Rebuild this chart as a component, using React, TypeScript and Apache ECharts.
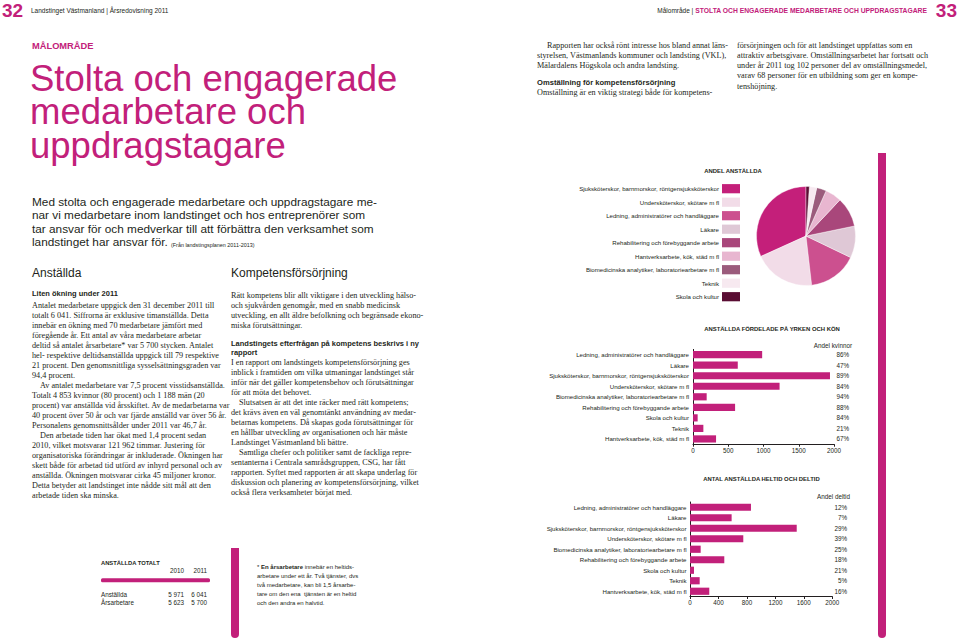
import { useEffect, useRef } from "react";
import * as echarts from "echarts";

const MAGENTA = "#c2207a";
const INK = "#231f20";
const SANS = '"Liberation Sans", Arial, Helvetica, sans-serif';
const SERIF = '"Liberation Serif", "Times New Roman", serif';

// ---- chart data ----
const occupations = [
  "Ledning, administratörer och handläggare",
  "Läkare",
  "Sjuksköterskor, barnmorskor, röntgensjuksköterskor",
  "Undersköterskor, skötare m fl",
  "Biomedicinska analytiker, laboratoriearbetare m fl",
  "Rehabilitering och förebyggande arbete",
  "Skola och kultur",
  "Teknik",
  "Hantverksarbete, kök, städ m fl",
];
const employees = [981, 635, 1943, 1228, 194, 597, 66, 147, 327];
const shareWomen = ["86%", "47%", "89%", "84%", "94%", "88%", "84%", "21%", "67%"];
const fullTime = [857, 585, 1500, 749, 150, 482, 56, 136, 271];
const sharePartTime = ["12%", "7%", "29%", "39%", "25%", "18%", "21%", "5%", "16%"];

const pieOrder = [
  "Sjuksköterskor, barnmorskor, röntgensjuksköterskor",
  "Undersköterskor, skötare m fl",
  "Ledning, administratörer och handläggare",
  "Läkare",
  "Rehabilitering och förebyggande arbete",
  "Hantverksarbete, kök, städ m fl",
  "Biomedicinska analytiker, laboratoriearbetare m fl",
  "Teknik",
  "Skola och kultur",
];
const pieColors = ["#c41f7a", "#f2dce8", "#cc508f", "#dfc8d6", "#a9477b", "#e8b6d0", "#9b5b7c", "#f7e9f0", "#5a0d33"];

const axis1Ticks = [0, 500, 2000];
const axis2Ticks = [0, 400, 2000];

const totalYears = ["2010", "2011"];
const totalRows = ["Anställda", "Årsarbetare"];
const totals2010 = ["5 971", "5 623"];
const totals2011 = ["6 041", "5 700"];

// ---- page texts ----
const titleLines = ["Stolta och engagerade", "medarbetare och", "uppdragstagare"];
const introLines = [
  "Med stolta och engagerade medarbetare och uppdragstagare me-",
  "nar vi medarbetare inom landstinget och hos entreprenörer som",
  "tar ansvar för och medverkar till att förbättra den verksamhet som",
];
const introLast = "landstinget har ansvar för.";
const introSource = "(Från landstingsplanen 2011-2013)";

const anstalldaLines = [
  "Antalet medarbetare uppgick den 31 december 2011 till",
  "totalt 6 041. Siffrorna är exklusive timanställda. Detta",
  "innebär en ökning med 70 medarbetare jämfört med",
  "föregående år. Ett antal av våra medarbetare arbetar",
  "deltid så antalet årsarbetare* var 5 700 stycken. Antalet",
  "hel- respektive deltidsanställda uppgick till 79 respektive",
  "21 procent. Den genomsnittliga sysselsättningsgraden var",
  "94,4 procent.",
  "\tAv antalet medarbetare var 7,5 procent visstidsanställda.",
  "Totalt 4 853 kvinnor (80 procent) och 1 188 män (20",
  "procent) var anställda vid årsskiftet. Av de medarbetarna var",
  "40 procent över 50 år och var fjärde anställd var över 56 år.",
  "Personalens genomsnittsålder under 2011 var 46,7 år.",
  "\tDen arbetade tiden har ökat med 1,4 procent sedan",
  "2010, vilket motsvarar 121 962 timmar. Justering för",
  "organisatoriska förändringar är inkluderade. Ökningen har",
  "skett både för arbetad tid utförd av inhyrd personal och av",
  "anställda. Ökningen motsvarar cirka 45 miljoner kronor.",
  "Detta betyder att landstinget inte nådde sitt mål att den",
  "arbetade tiden ska minska.",
];
const kompPara1 = [
  "Rätt kompetens blir allt viktigare i den utveckling hälso-",
  "och sjukvården genomgår, med en snabb medicinsk",
  "utveckling, en allt äldre befolkning och begränsade ekono-",
  "miska förutsättningar.",
];
const kompHeading = ["Landstingets efterfrågan på kompetens beskrivs i ny", "rapport"];
const kompPara2 = [
  "I en rapport om landstingets kompetensförsörjning ges",
  "inblick i framtiden om vilka utmaningar landstinget står",
  "inför när det gäller kompetensbehov och förutsättningar",
  "för att möta det behovet.",
  "\tSlutsatsen är att det inte räcker med rätt kompetens;",
  "det krävs även en väl genomtänkt användning av medar-",
  "betarnas kompetens. Då skapas goda förutsättningar för",
  "en hållbar utveckling av organisationen och här måste",
  "Landstinget Västmanland bli bättre.",
  "\tSamtliga chefer och politiker samt de fackliga repre-",
  "sentanterna i Centrala samrådsgruppen, CSG, har fått",
  "rapporten. Syftet med rapporten är att skapa underlag för",
  "diskussion och planering av kompetensförsörjning, vilket",
  "också flera verksamheter börjat med.",
];
const topCol1 = [
  "\tRapporten har också rönt intresse hos bland annat läns-",
  "styrelsen, Västmanlands kommuner och landsting (VKL),",
  "Mälardalens Högskola och andra landsting.",
];
const topCol1Heading = "Omställning för kompetensförsörjning";
const topCol1After = ["Omställning är en viktig strategi både för kompetens-"];
const topCol2 = [
  "försörjningen och för att landstinget uppfattas som en",
  "attraktiv arbetsgivare. Omställningsarbetet har fortsatt och",
  "under år 2011 tog 102 personer del av omställningsmedel,",
  "varav 68 personer för en utbildning som ger en kompe-",
  "tenshöjning.",
];
const footnoteLines = [
  "* {b|En årsarbetare} innebär en heltids-",
  "arbetare under ett år. Två tjänster, dvs",
  "två medarbetare, kan bli 1,5 årsarbe-",
  "tare om den ena  tjänsten är en heltid",
  "och den andra en halvtid.",
];

type TOpts = {
  size?: number;
  family?: string;
  weight?: string;
  color?: string;
  align?: string;
  rich?: any;
  lineHeight?: number;
  vAlign?: string;
};
function T(x: number, y: number, text: string, o: TOpts = {}) {
  return {
    type: "text",
    x,
    y,
    silent: true,
    z: 10,
    style: {
      text,
      fontSize: o.size ?? 8.2,
      fontFamily: o.family ?? SERIF,
      fontWeight: o.weight ?? "normal",
      fill: o.color ?? INK,
      align: o.align ?? "left",
      verticalAlign: o.vAlign ?? "middle",
      lineHeight: o.lineHeight,
      rich: o.rich,
    },
  };
}
function lines(x: number, y0: number, step: number, arr: string[], o: TOpts = {}, indent = 8) {
  return arr.map((l, i) => {
    const ind = l.startsWith("\t");
    return T(x + (ind ? indent : 0), y0 + i * step, ind ? l.slice(1) : l, o);
  });
}
function R(x: number, y: number, w: number, h: number, fill: string, r: any = 0) {
  return { type: "rect", silent: true, z: 5, shape: { x, y, width: w, height: h, r }, style: { fill } };
}

export default function App() {
  const ref = useRef<HTMLDivElement>(null);
  useEffect(() => {
    if (!ref.current) return;
    const chart = echarts.init(ref.current, undefined, { renderer: "svg" });

    const g: any[] = [];
    // header
    g.push(T(2, 10.2, "32", { size: 19, family: SANS, weight: "bold", color: MAGENTA }));
    g.push(T(31, 10.7, "Landstinget Västmanland | Årsredovisning 2011", { size: 6.5, family: SANS }));
    g.push(
      T(927, 10.7, "Målområde | {m|STOLTA OCH ENGAGERADE MEDARBETARE OCH UPPDRAGSTAGARE}", {
        size: 6.5,
        family: SANS,
        align: "right",
        rich: { m: { fontSize: 6.75, fontFamily: SANS, fontWeight: "bold", fill: MAGENTA } },
      })
    );
    g.push(T(957, 10.2, "33", { size: 19, family: SANS, weight: "bold", color: MAGENTA, align: "right" }));

    // title
    g.push(T(32, 45.7, "MÅLOMRÅDE", { size: 9.3, family: SANS, weight: "bold", color: MAGENTA }));
    titleLines.forEach((l, i) =>
      g.push(T(30, 78.4 + i * 33.3, l, { size: 36.5, family: SANS, color: MAGENTA, lineHeight: 33 }))
    );

    // intro
    introLines.forEach((l, i) => g.push(T(32, 201.5 + i * 13.5, l, { size: 11.8, family: SANS })));
    g.push(
      T(32, 242, introLast + " {s|" + introSource + "}", {
        size: 11.8,
        family: SANS,
        rich: { s: { fontSize: 5.4, fontFamily: SANS, fill: INK, verticalAlign: "bottom", padding: [0, 0, 1, 0] } },
      })
    );

    // column headings
    g.push(T(32, 273, "Anställda", { size: 12, family: SANS }));
    g.push(T(231, 273, "Kompetensförsörjning", { size: 12, family: SANS }));

    // left column
    g.push(T(32, 293.5, "Liten ökning under 2011", { size: 7.5, family: SANS, weight: "bold" }));
    g.push(...lines(32, 305, 10.05, anstalldaLines));

    // middle column
    g.push(...lines(231, 295.5, 10, kompPara1));
    g.push(...lines(231, 343, 9.5, kompHeading, { size: 7.5, family: SANS, weight: "bold" }));
    g.push(...lines(231, 362, 10, kompPara2));

    // top right text
    g.push(...lines(537, 45, 10, topCol1, {}, 10));
    g.push(T(537, 82, topCol1Heading, { size: 7.6, family: SANS, weight: "bold" }));
    g.push(...lines(537, 92, 10, topCol1After));
    g.push(...lines(737, 45, 10.3, topCol2));

    // decorative bars
    g.push(R(878, 153, 8, 485, MAGENTA, [0, 0, 4, 4]));
    g.push(R(231, 548, 8, 90, MAGENTA, [0, 0, 4, 4]));

    // totals table
    g.push(T(101, 562.7, "ANSTÄLLDA TOTALT", { size: 5.8, family: SANS, weight: "bold" }));
    g.push(T(184, 570, totalYears[0], { size: 6.3, family: SANS, align: "right" }));
    g.push(T(207, 570, totalYears[1], { size: 6.3, family: SANS, align: "right" }));
    g.push(R(101, 578.3, 109, 4, MAGENTA, 1.5));
    totalRows.forEach((r, i) => {
      const y = 594.3 + i * 8.4;
      g.push(T(101, y, r, { size: 6.3, family: SANS }));
      g.push(T(184, y, totals2010[i], { size: 6.3, family: SANS, align: "right" }));
      g.push(T(207, y, totals2011[i], { size: 6.3, family: SANS, align: "right" }));
    });

    // footnote
    footnoteLines.forEach((l, i) =>
      g.push(
        T(257, 567 + i * 8.9, l, {
          size: 6,
          family: SANS,
          rich: { b: { fontSize: 6, fontFamily: SANS, fontWeight: "bold", fill: INK } },
        })
      )
    );

    // chart titles
    g.push(T(733, 171, "ANDEL ANSTÄLLDA", { size: 5.9, family: SANS, weight: "bold", align: "center" }));
    g.push(T(772, 329, "ANSTÄLLDA FÖRDELADE PÅ YRKEN OCH KÖN", { size: 5.9, family: SANS, weight: "bold", align: "center" }));
    g.push(T(761.5, 479.3, "ANTAL ANSTÄLLDA HELTID OCH DELTID", { size: 5.9, family: SANS, weight: "bold", align: "center" }));
    g.push(T(852, 345, "Andel kvinnor", { size: 6.3, family: SANS, align: "right" }));
    g.push(T(850, 496, "Andel deltid", { size: 6.3, family: SANS, align: "right" }));

    // pie legend
    pieOrder.forEach((name, i) => {
      const y = 188.7 + i * 13.5;
      g.push(T(719, y, name, { size: 6.1, family: SANS, align: "right" }));
      g.push(R(722, y - 4.6, 18, 9.2, pieColors[i]));
    });

    const valueAxis = (gridIndex: number, interval: number) => ({
      gridIndex,
      type: "value",
      min: 0,
      max: 2000,
      interval,
      axisLine: { show: true, lineStyle: { color: INK, width: 1 } },
      axisTick: { show: true, length: 2.5, lineStyle: { color: INK } },
      splitLine: { show: false },
      axisLabel: { fontSize: 6.3, color: INK, margin: 3, fontFamily: SANS, formatter: (v: number) => String(v) },
    });
    const catAxis = (gridIndex: number, margin: number) => ({
      gridIndex,
      type: "category",
      data: occupations,
      inverse: true,
      axisLine: { show: true, lineStyle: { color: INK, width: 1 } },
      axisTick: { show: false },
      axisLabel: { fontSize: 6.1, color: INK, margin, fontFamily: SANS },
    });
    const pctAxis = (gridIndex: number, data: string[], margin: number) => ({
      gridIndex,
      type: "category",
      position: "right",
      data,
      inverse: true,
      axisLine: { show: false },
      axisTick: { show: false },
      axisLabel: { fontSize: 6.3, color: INK, margin, align: "right", fontFamily: SANS },
    });

    const valueByName: Record<string, number> = {};
    occupations.forEach((o, i) => (valueByName[o] = employees[i]));

    chart.setOption({
      animation: false,
      backgroundColor: "#ffffff",
      textStyle: { fontFamily: SANS },
      grid: [
        { left: 693, top: 349.4, width: 141, height: 94.8 },
        { left: 690, top: 502, width: 142.3, height: 94.5 },
      ],
      xAxis: [valueAxis(0, axis1Ticks[1] - axis1Ticks[0]), valueAxis(1, axis2Ticks[1] - axis2Ticks[0])],
      yAxis: [catAxis(0, 4), pctAxis(0, shareWomen, 15), catAxis(1, 3.5), pctAxis(1, sharePartTime, 14.7)],
      series: [
        {
          type: "bar",
          xAxisIndex: 0,
          yAxisIndex: 0,
          data: employees,
          barWidth: 7.2,
          itemStyle: { color: MAGENTA },
          silent: true,
        },
        {
          type: "bar",
          xAxisIndex: 1,
          yAxisIndex: 2,
          data: fullTime,
          barWidth: 7.2,
          itemStyle: { color: MAGENTA },
          silent: true,
        },
        {
          type: "pie",
          center: [806, 236],
          radius: 49.5,
          startAngle: 90,
          clockwise: false,
          silent: true,
          label: { show: false },
          labelLine: { show: false },
          itemStyle: { borderColor: "#ffffff", borderWidth: 0.4 },
          data: pieOrder.map((n, i) => ({ name: n, value: valueByName[n], itemStyle: { color: pieColors[i] } })),
        },
      ],
      graphic: { elements: g },
    });
    return () => chart.dispose();
  }, []);

  return (
    <div
      ref={ref}
      style={{ position: "fixed", left: 0, top: 0, width: 960, height: 641, background: "#fff" }}
    />
  );
}
